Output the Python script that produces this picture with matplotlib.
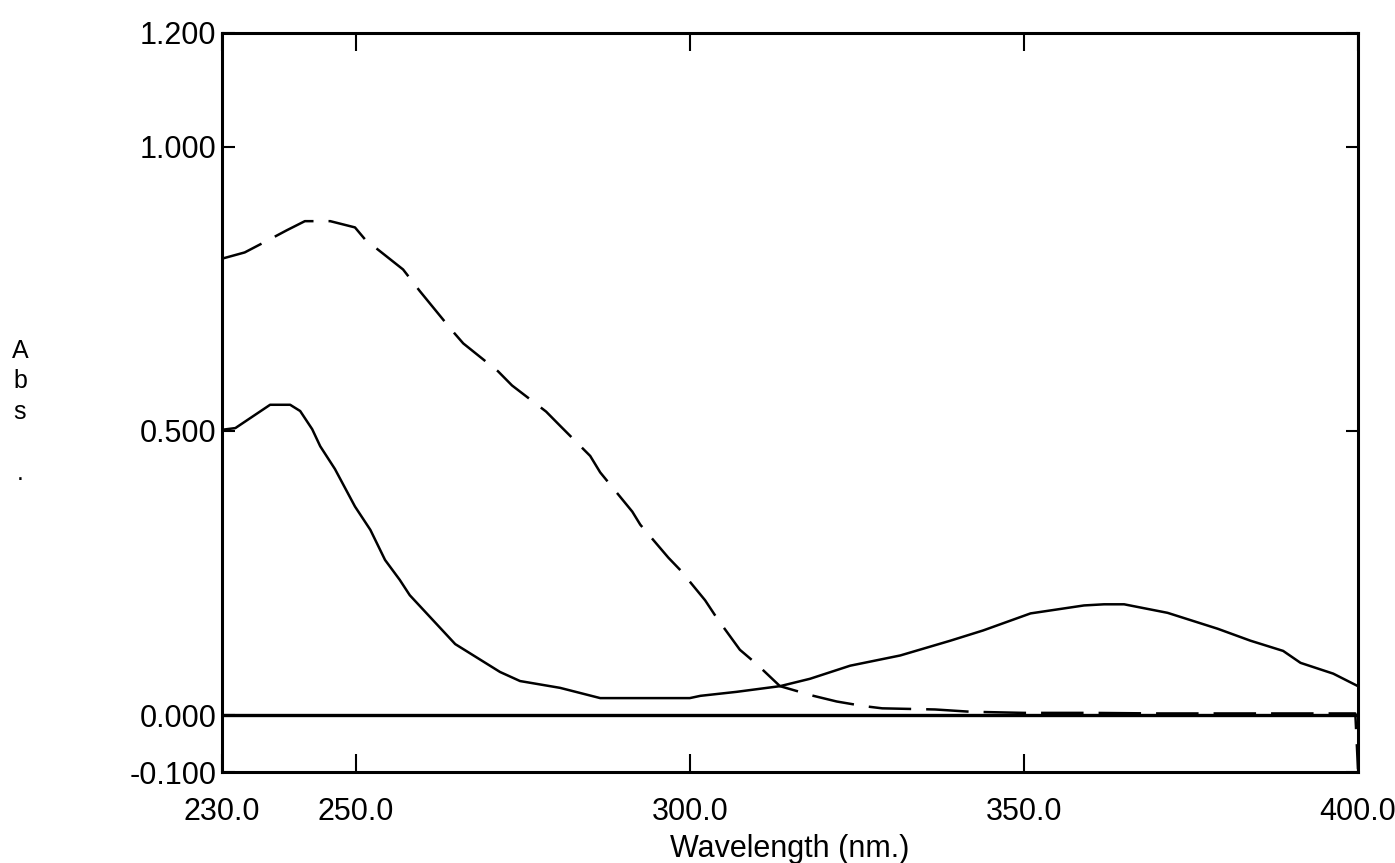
import matplotlib
matplotlib.use("Agg")
import matplotlib.pyplot as plt

plt.rcParams['font.family'] = ['Liberation Sans', 'DejaVu Sans']

# spectrum 1 (solid)
wl_a = [230, 232, 237.2, 240.2, 241.7, 243.5, 244.7, 246.9, 249.9, 252.2, 254.4, 256.6,
        258.1, 264.9, 271.6, 274.6, 280.6, 286.6, 300, 301.6, 307, 313.5, 318, 324,
        331.5, 339, 343.9, 351, 359, 362, 365, 371.5, 379, 383.9, 388.8, 391.4, 396.3, 400]
abs_a = [0.502, 0.505, 0.546, 0.546, 0.535, 0.503, 0.473, 0.433, 0.367, 0.326, 0.273, 0.238,
         0.211, 0.125, 0.076, 0.060, 0.048, 0.030, 0.030, 0.034, 0.041, 0.051, 0.064, 0.087,
         0.105, 0.131, 0.149, 0.179, 0.193, 0.195, 0.195, 0.180, 0.152, 0.131, 0.113, 0.092, 0.073, 0.051]

# spectrum 2 (dashed)
wl_b = [230, 233.4, 236.5, 239.7, 242.4, 246.2, 249.9, 251.4, 257.1, 259.6, 264.4, 266.1,
        271.3, 273.4, 278.5, 280.6, 285.1, 286.6, 291.4, 292.6, 296.8, 298.6, 302.3, 304.1,
        307.5, 310, 313.5, 318.5, 322, 326, 328.8, 336.7, 342, 350, 360, 370, 380, 390, 399.6, 400]
abs_b = [0.803, 0.814, 0.833, 0.853, 0.869, 0.869, 0.858, 0.837, 0.784, 0.746, 0.677, 0.654,
         0.605, 0.580, 0.534, 0.509, 0.456, 0.427, 0.358, 0.335, 0.277, 0.255, 0.202, 0.170,
         0.115, 0.090, 0.051, 0.034, 0.024, 0.016, 0.012, 0.010, 0.006, 0.004, 0.004, 0.003,
         0.003, 0.003, 0.003, -0.095]

x_ticks = [230, 250, 300, 350, 400]
x_labels = ["230.0", "250.0", "300.0", "350.0", "400.0"]
y_ticks = [-0.1, 0.0, 0.5, 1.0, 1.2]
y_labels = ["-0.100", "0.000", "0.500", "1.000", "1.200"]

fig = plt.figure(figsize=(13.95, 8.63), dpi=100)
ax = fig.add_axes([222 / 1395, 1 - 772 / 863, (1358 - 222) / 1395, (772 - 33) / 863])

ax.plot(wl_a, abs_a, color="black", lw=1.8)
ax.plot(wl_b, abs_b, color="black", lw=1.8, dashes=(17, 6))
ax.axhline(0, color="black", lw=2.4)

ax.set_xlim(230, 400)
ax.set_ylim(-0.1, 1.2)
ax.set_xticks(x_ticks)
ax.set_xticklabels(x_labels)
ax.set_yticks(y_ticks)
ax.set_yticklabels(y_labels)

for s in ax.spines.values():
    s.set_linewidth(2.2)

ax.tick_params(axis="x", direction="in", length=13, width=1.5, top=True,
               labelsize=22, pad=18)
ax.tick_params(axis="y", direction="in", length=9, width=1.5, right=True,
               labelsize=22, pad=4)

fig.text(790 / 1395, 1 - 849 / 863, "Wavelength (nm.)", fontsize=22,
         ha="center", va="center")
fig.text(20 / 1395, 1 - 412 / 863, "A\nb\ns\n\n.", fontsize=18,
         ha="center", va="center", linespacing=1.35)

fig.savefig("out.png", dpi=100, facecolor="white")
